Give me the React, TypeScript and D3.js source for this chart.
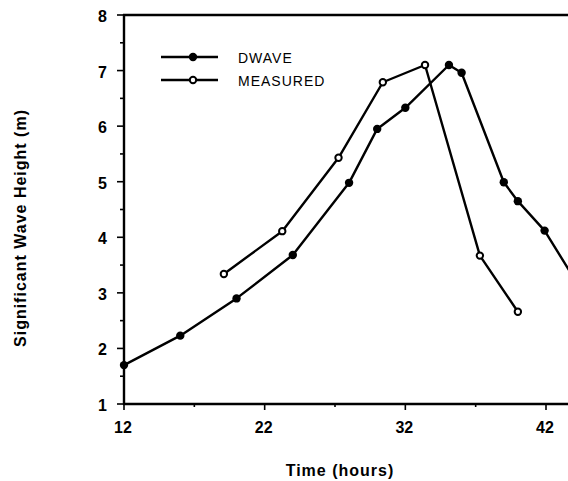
import { scaleLinear, line, range } from 'd3'

// hours / significant wave height (m)
const dwaveTime = [12, 16, 20, 24, 28, 30, 32, 35.1, 36, 39, 40, 41.9, 44]
const dwaveHeight = [1.7, 2.23, 2.9, 3.68, 4.98, 5.95, 6.33, 7.1, 6.96, 4.99, 4.65, 4.12, 3.26]
const measuredTime = [19.1, 23.25, 27.25, 30.4, 33.4, 37.3, 40]
const measuredHeight = [3.34, 4.11, 5.43, 6.79, 7.1, 3.67, 2.66]
const xTicks = [12, 22, 32, 42]
const yTicks = [1, 2, 3, 4, 5, 6, 7, 8]
const legendLabels = ['DWAVE', 'MEASURED']

const W = 568
const H = 481
const font = '"Liberation Sans", Arial, Helvetica, sans-serif'

export default function App() {
  const xScale = scaleLinear().domain([12, 42]).range([124, 546])
  const yScale = scaleLinear().domain([1, 8]).range([404, 15])
  const left = xScale(12)
  const bottom = yScale(1)
  const top = yScale(8)

  const path = line<[number, number]>()
    .x(d => xScale(d[0]))
    .y(d => yScale(d[1]))

  const dwave = dwaveTime.map((t, i) => [t, dwaveHeight[i]] as [number, number])
  const measured = measuredTime.map((t, i) => [t, measuredHeight[i]] as [number, number])

  const yMinor = range(1.5, 8, 1)
  const xMinor = [17, 27, 37]
  const lineW = 2.4

  return (
    <svg width={W} height={H} style={{ position: 'absolute', left: 0, top: 0 }} fontFamily={font}>
      <rect width={W} height={H} fill="#fff" />

      {/* frame */}
      <g stroke="#000" strokeWidth={2.4} fill="none">
        <line x1={left} x2={left} y1={top - 1} y2={bottom + 1} />
        <line x1={left - 1} x2={W} y1={top} y2={top} />
        <line x1={left - 1} x2={W} y1={bottom} y2={bottom} />
      </g>

      {/* y ticks */}
      <g stroke="#000" strokeWidth={1.6}>
        {yTicks.map(v => <line key={v} x1={left - 7} x2={left} y1={yScale(v)} y2={yScale(v)} />)}
        {yMinor.map(v => <line key={v} x1={left - 4} x2={left} y1={yScale(v)} y2={yScale(v)} />)}
      </g>
      <g fontSize={16} fontWeight="bold" textAnchor="end">
        {yTicks.map(v => <text key={v} x={107} y={yScale(v) + 7}>{v}</text>)}
      </g>

      {/* x ticks */}
      <g stroke="#000" strokeWidth={1.6}>
        {xTicks.map(v => <line key={v} x1={xScale(v)} x2={xScale(v)} y1={bottom} y2={bottom + 6} />)}
        {xMinor.map(v => <line key={v} x1={xScale(v)} x2={xScale(v)} y1={bottom} y2={bottom + 3} />)}
      </g>
      <g fontSize={16} fontWeight="bold" textAnchor="middle">
        {xTicks.map(v => <text key={v} x={xScale(v) - 1} y={433}>{v}</text>)}
      </g>

      {/* titles */}
      <text x={340} y={476} fontSize={16} fontWeight="bold" textAnchor="middle" letterSpacing={1}>Time (hours)</text>
      <text transform="translate(26,228) rotate(-90)" fontSize={16} fontWeight="bold" textAnchor="middle" letterSpacing={1}>
        Significant Wave Height (m)
      </text>

      {/* series */}
      <path d={path(dwave) ?? ''} fill="none" stroke="#000" strokeWidth={lineW} strokeLinejoin="round" />
      <path d={path(measured) ?? ''} fill="none" stroke="#000" strokeWidth={lineW} strokeLinejoin="round" />
      {dwave.map((d, i) => <circle key={i} cx={xScale(d[0])} cy={yScale(d[1])} r={4.2} fill="#000" />)}
      {measured.map((d, i) => (
        <circle key={i} cx={xScale(d[0])} cy={yScale(d[1])} r={3.2} fill="#fff" stroke="#000" strokeWidth={2} />
      ))}

      {/* legend */}
      <g stroke="#000" strokeWidth={lineW}>
        <line x1={161} x2={218} y1={57} y2={57} />
        <line x1={161} x2={218} y1={80} y2={80} />
      </g>
      <circle cx={193} cy={57} r={4.2} fill="#000" />
      <circle cx={193} cy={80} r={3.2} fill="#fff" stroke="#000" strokeWidth={2} />
      <g fontSize={14} letterSpacing={1}>
        {legendLabels.map((l, i) => <text key={l} x={238} y={63 + i * 23}>{l}</text>)}
      </g>
    </svg>
  )
}
